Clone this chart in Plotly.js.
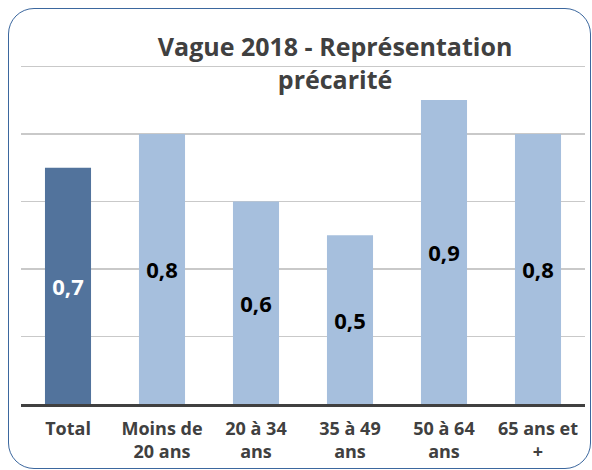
<!DOCTYPE html>
<html><head><meta charset="utf-8">
<script src="https://cdn.plot.ly/plotly-3.0.1.min.js"></script>
<style>
html,body{margin:0;padding:0;background:#fff;}
#wrap{position:relative;width:592px;height:470px;}
#chart{position:absolute;left:0;top:0;width:592px;height:470px;}
#frame{position:absolute;left:8px;top:8px;width:581px;height:459px;border:1.5px solid #3b679e;border-radius:26px;pointer-events:none;}
</style></head>
<body><div id="wrap"><div id="chart"></div><div id="frame"></div></div>
<script>
const categories = ["Total", "Moins de<br>20 ans", "20 à 34<br>ans", "35 à 49<br>ans", "50 à 64<br>ans", "65 ans et<br>+"];
const values = [0.7, 0.8, 0.6, 0.5, 0.9, 0.8];
const labels = ["0,7", "0,8", "0,6", "0,5", "0,9", "0,8"];
const barColors = ["#52739c", "#a6bfdd", "#a6bfdd", "#a6bfdd", "#a6bfdd", "#a6bfdd"];
const labelColors = ["#ffffff", "#000000", "#000000", "#000000", "#000000", "#000000"];

const font = "'Open Sans', sans-serif";
Plotly.newPlot("chart", [{
  type: "bar",
  x: categories,
  y: values,
  text: labels,
  textposition: "inside",
  insidetextanchor: "middle",
  textangle: 0,
  textfont: {family: font, size: 22, color: labelColors, weight: 700},
  marker: {color: barColors, line: {width: 0}},
  hoverinfo: "none"
}], {
  width: 592, height: 470,
  margin: {l: 21, r: 7, t: 65, b: 66},
  paper_bgcolor: "rgba(0,0,0,0)", plot_bgcolor: "rgba(0,0,0,0)",
  bargap: 0.51,
  title: {text: "<b>Vague 2018 - Représentation<br>précarité</b>", x: 0.566, xanchor: "center", y: 0.88, yanchor: "top",
          font: {family: font, size: 25, color: "#404040"}},
  xaxis: {showline: true, linecolor: "#404040", linewidth: 3, ticks: "", showgrid: false, ticklabelstandoff: 6,
          tickfont: {family: font, size: 18, color: "#404040", weight: 700}, fixedrange: true},
  yaxis: {range: [0, 1.004], tickvals: [0.2, 0.4, 0.6, 0.8, 1.0], showticklabels: false, showgrid: true, gridcolor: "rgba(120,120,120,0.4)", gridwidth: 1.5,
          zeroline: false, layer: "above traces", fixedrange: true},
  showlegend: false
}, {displayModeBar: false, staticPlot: true});
</script></body></html>
